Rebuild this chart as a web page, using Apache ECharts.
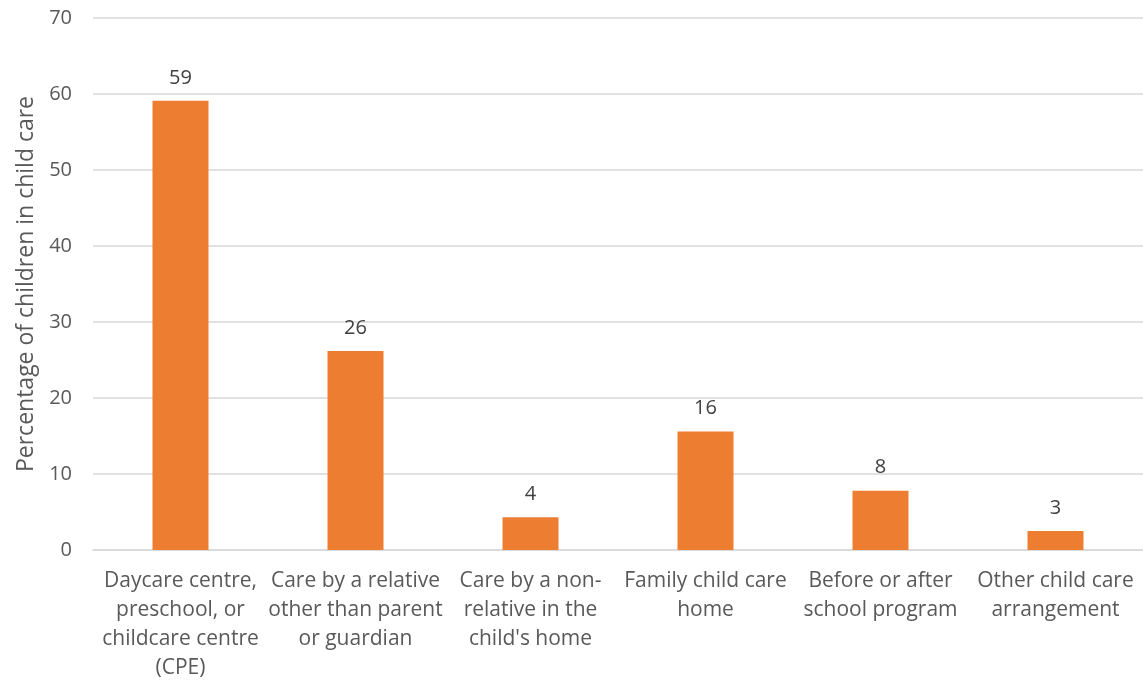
<!DOCTYPE html>
<html>
<head>
<meta charset="utf-8">
<script src="https://cdn.jsdelivr.net/npm/echarts@6/dist/echarts.min.js"></script>
<style>
html,body{margin:0;padding:0;background:#fff;}
#chart{width:1143px;height:680px;}
</style>
</head>
<body>
<div id="chart"></div>
<script>
const categories = [
  "Daycare centre,\npreschool, or\nchildcare centre\n(CPE)",
  "Care by a relative\nother than parent\nor guardian",
  "Care by a non-\nrelative in the\nchild's home",
  "Family child care\nhome",
  "Before or after\nschool program",
  "Other child care\narrangement"
];
const values = [59.1, 26.2, 4.3, 15.6, 7.8, 2.5];
const valueLabels = ["59", "26", "4", "16", "8", "3"];
const yTitle = "Percentage of children in child care";

const chart = echarts.init(document.getElementById('chart'), null, {renderer: 'canvas'});
const FONT = '"Open Sans", sans-serif';
chart.setOption({
  animation: false,
  textStyle: {fontFamily: FONT},
  grid: {left: 93, right: 0, top: 18, bottom: 130, containLabel: false, outerBoundsMode: 'none'},
  xAxis: {
    type: 'category',
    data: categories,
    axisTick: {show: false},
    axisLine: {lineStyle: {color: '#d9d9d9', width: 1.5}},
    axisLabel: {color: '#595959', fontSize: 21, lineHeight: 29, margin: 17, fontFamily: FONT, interval: 0}
  },
  yAxis: {
    type: 'value',
    min: 0, max: 70, interval: 10,
    name: yTitle,
    nameLocation: 'middle',
    nameGap: 54,
    nameTextStyle: {color: '#595959', fontSize: 23, fontFamily: FONT},
    axisLine: {show: false},
    axisTick: {show: false},
    axisLabel: {color: '#595959', fontSize: 20, margin: 21, fontFamily: FONT},
    splitLine: {lineStyle: {color: '#d9d9d9', width: 1.5}}
  },
  series: [{
    type: 'bar',
    data: values,
    barWidth: 56,
    itemStyle: {color: '#ED7D31'},
    label: {
      show: true, position: 'top', distance: 13,
      color: '#404040', fontSize: 20, fontFamily: FONT,
      formatter: p => valueLabels[p.dataIndex]
    }
  }]
});
</script>
</body>
</html>
